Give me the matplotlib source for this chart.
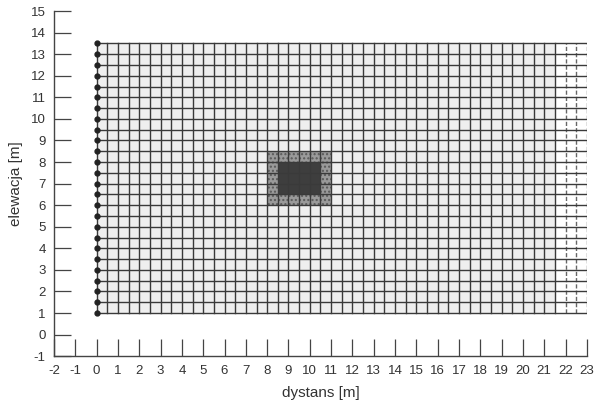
import matplotlib.pyplot as plt
import numpy as np

plt.rcParams['font.family'] = ['Liberation Sans', 'DejaVu Sans']
plt.rcParams['axes.unicode_minus'] = False

# siatka modelu (co 0.5 m)
x_grid = np.arange(0, 23.01, 0.5)
y_grid = np.arange(1, 13.51, 0.5)
# elektrody na x = 0
elec_x = [0.0] * len(y_grid)
elec_y = list(y_grid)
# obszar gęstszej siatki i anomalia
dense_x = [0, 21.5]
outer_box = [8.0, 11.0, 6.0, 8.5]
inner_box = [8.5, 10.5, 6.5, 8.0]

x_ticks = list(range(-2, 24))
y_ticks = list(range(-1, 16))

fig = plt.figure(figsize=(5.94, 4.08), dpi=100)
ax = fig.add_axes([0.091, 0.127, 0.897, 0.846])

ax.fill_between(dense_x, y_grid[0], y_grid[-1], color='#efefef', lw=0, zorder=0)
ax.fill_between(outer_box[:2], outer_box[2], outer_box[3], facecolor='#9a9a9a',
                hatch='....', edgecolor='#5a5a5a', lw=0, zorder=1)
ax.fill_between(inner_box[:2], inner_box[2], inner_box[3], color='#3e3e3e', lw=0, zorder=2)

for xv in x_grid:
    ls = '-' if xv <= dense_x[1] else (0, (3, 1.5))
    c = '#3a3a3a' if xv <= dense_x[1] else '#666666'
    ax.plot([xv, xv], [y_grid[0], y_grid[-1]], color=c, lw=1.0, ls=ls, zorder=3)
for yv in y_grid:
    ax.plot([x_grid[0], x_grid[-1]], [yv, yv], color='#3a3a3a', lw=1.0, zorder=3)

ax.plot(elec_x, elec_y, 'o', color='#222222', ms=3.5, zorder=4, clip_on=False)

ax.set_xlim(-2, 23)
ax.set_ylim(-1, 15)
ax.set_xticks(x_ticks)
ax.set_yticks(y_ticks)
ax.tick_params(direction='in', length=12, width=0.9, color='#444444',
               labelsize=9.5, labelcolor='#333333', pad=6)
for s in ['top', 'right']:
    ax.spines[s].set_visible(False)
for s in ['left', 'bottom']:
    ax.spines[s].set_color('#444444')
    ax.spines[s].set_linewidth(1.0)

ax.set_xlabel('dystans [m]', fontsize=11, color='#333333', labelpad=7)
ax.set_ylabel('elewacja [m]', fontsize=11, color='#333333', labelpad=6)

fig.savefig('out.png', dpi=100)
